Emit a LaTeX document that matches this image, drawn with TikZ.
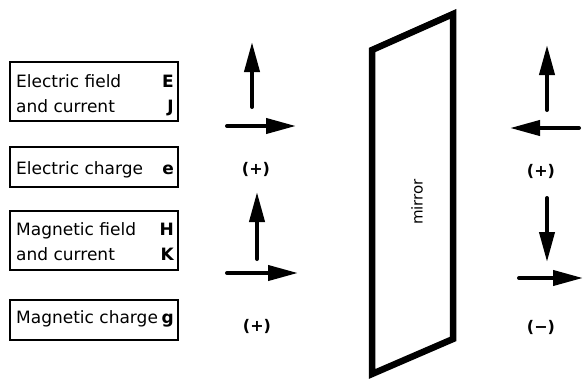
\documentclass[tikz,border=0pt]{standalone}
\usepackage{fontspec}
\setmainfont{DejaVu Sans}
\usetikzlibrary{arrows.meta}
\newcommand\mylblfont{\fontsize{17pt}{20pt}\selectfont}
\newcommand\mysignfont{\fontsize{16pt}{19pt}\selectfont\bfseries}
\newcommand\mymirrorfont{\fontsize{15pt}{18pt}\selectfont}
\begin{document}
\begin{tikzpicture}[x=1pt,y=-1pt]
\tikzset{
  legendbox/.style={draw,line width=2pt,minimum width=168pt,inner sep=0pt,outer sep=0pt},
  lbl/.style={font=\mylblfont,inner sep=0pt,anchor=base west},
  sym/.style={font=\mylblfont\bfseries,inner sep=0pt,anchor=base east},
  sign/.style={font=\mysignfont,inner sep=0pt},
  vec/.style={line width=4pt,line cap=round,-{Triangle[length=30pt,width=15pt]}},
  mirrorline/.style={line width=6.5pt,line join=miter}}
\useasboundingbox (0,0) rectangle (583,380);
% legend boxes
\node[legendbox,minimum height=59pt] (b1) at (94,91.5) {};
\node[legendbox,minimum height=40pt] (b2) at (94,167) {};
\node[legendbox,minimum height=59pt] (b3) at (94,240.5) {};
\node[legendbox,minimum height=40pt] (b4) at (94,320) {};
\node[lbl] (t1a) at (16,87) {Electric field};
\node[lbl] (t1b) at (16,112) {and current};
\node[sym] (s1a) at (174,87) {E};
\node[sym] (s1b) at (174,112) {J};
\node[lbl] (t2) at (16,174) {Electric charge};
\node[sym] (s2) at (174,174) {e};
\node[lbl] (t3a) at (16,235) {Magnetic field};
\node[lbl] (t3b) at (16,260) {and current};
\node[sym] (s3a) at (174,235) {H};
\node[sym] (s3b) at (174,260) {K};
\node[lbl] (t4) at (16,323) {Magnetic charge};
\node[sym] (s4) at (174,323) {g};
% left vectors, electric
\coordinate (ev0) at (252,107); \coordinate (ev1) at (252,42);
\coordinate (eh0) at (227,126); \coordinate (eh1) at (296,126);
\draw[vec] (ev0) -- (ev1);
\draw[vec] (eh0) -- (eh1);
\node[sign] (p1) at (256,169) {(+)};
% left vectors, magnetic
\coordinate (mv0) at (257,259); \coordinate (mv1) at (257,192);
\coordinate (mh0) at (227,273); \coordinate (mh1) at (298,273);
\draw[vec] (mv0) -- (mv1);
\draw[vec] (mh0) -- (mh1);
\node[sign] (p2) at (257,326) {(+)};
% mirror
\coordinate (m1) at (372,50); \coordinate (m2) at (453,14);
\coordinate (m3) at (453,339); \coordinate (m4) at (372,374);
\draw[mirrorline] (m1) -- (m2) -- (m3) -- (m4) -- cycle;
\node[font=\mymirrorfont,rotate=90,inner sep=0pt] (mir) at (417,202) {mirror};
% right vectors, electric
\coordinate (rev0) at (547,110); \coordinate (rev1) at (547,45);
\coordinate (reh0) at (579,128); \coordinate (reh1) at (510,128);
\draw[vec] (rev0) -- (rev1);
\draw[vec] (reh0) -- (reh1);
\node[sign] (p3) at (541,171) {(+)};
% right vectors, magnetic
\coordinate (rmv0) at (547,198); \coordinate (rmv1) at (547,262);
\coordinate (rmh0) at (519,278); \coordinate (rmh1) at (583,278);
\draw[vec] (rmv0) -- (rmv1);
\draw[vec] (rmh0) -- (rmh1);
\node[sign] (p4) at (541,327) {(−)};
\end{tikzpicture}
\end{document}
